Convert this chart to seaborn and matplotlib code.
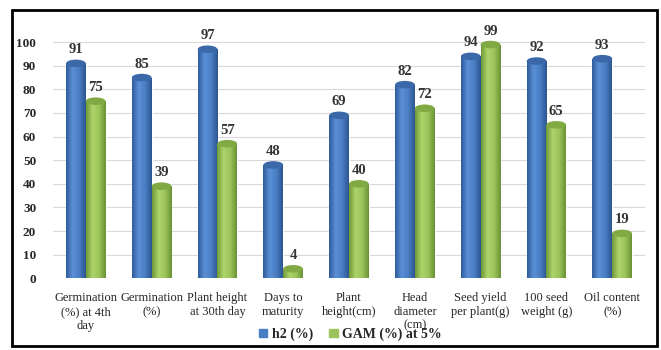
import numpy as np
import pandas as pd
import matplotlib
matplotlib.use('Agg')
import matplotlib.pyplot as plt
import seaborn as sns
from matplotlib.patches import Ellipse, Rectangle
from matplotlib.colors import LinearSegmentedColormap

CATEGORIES = [
    'Germination\n(%) at 4th\nday', 'Germination\n(%)', 'Plant height\nat 30th day',
    'Days to\nmaturity', 'Plant\nheight(cm)', 'Head\ndiameter\n(cm)',
    'Seed yield\nper plant(g)', '100 seed\nweight (g)', 'Oil content\n(%)'
]
H2 = [91, 85, 97, 48, 69, 82, 94, 92, 93]
GAM = [75, 39, 57, 4, 40, 72, 99, 65, 19]
SERIES = ['h2 (%)', 'GAM (%) at 5%']
COLORS = ['#4a7ec4', '#9bc45a']
SHADES = [['#2f5c9a', '#5b8fd6', '#4a7ec4', '#2c5590'],
          ['#6f9838', '#aed46a', '#9bc45a', '#6a9234']]
CAP_COLORS = ['#3a68a8', '#82aa44']
Y_TICKS = [0, 10, 20, 30, 40, 50, 60, 70, 80, 90, 100]

df = pd.DataFrame({
    'trait': CATEGORIES * 2,
    'value': H2 + GAM,
    'series': [SERIES[0]] * len(H2) + [SERIES[1]] * len(GAM),
})

sns.set_style('white')
plt.rcParams['font.family'] = ['Liberation Serif', 'DejaVu Serif']

fig = plt.figure(figsize=(6.61, 3.5), dpi=100)
ax = fig.add_axes([0.08, 0.205, 0.896, 0.715])

sns.barplot(data=df, x='trait', y='value', hue='series', palette=COLORS,
            width=0.6, gap=0.0, saturation=1, ax=ax, legend=False, zorder=3)

# cylinder look: shaded body plus elliptical caps
cap_h = 3.2
grad = np.linspace(0, 1, 64).reshape(1, -1)
for cont, col, capc, shade in zip(ax.containers, COLORS, CAP_COLORS, SHADES):
    cmap = LinearSegmentedColormap.from_list('cyl', shade)
    for bar in cont:
        x0, w, h = bar.get_x(), bar.get_width(), bar.get_height()
        cx = x0 + w / 2
        im = ax.imshow(grad, cmap=cmap, aspect='auto', extent=(x0, x0 + w, 0, h),
                       zorder=3.5, interpolation='bilinear')
        im.set_clip_path(bar)
        ax.add_patch(Ellipse((cx, 0), w, cap_h, facecolor=shade[2], edgecolor='none', zorder=3))
        ax.add_patch(Ellipse((cx, h), w, cap_h, facecolor=capc, edgecolor='none', zorder=4))
    ax.bar_label(cont, padding=5, fontsize=10.5, fontweight='bold', color='#333333')

ax.set_ylim(0, 106)
ax.set_xlim(-0.5, len(CATEGORIES) - 0.5)
ax.set_yticks(Y_TICKS)
ax.set_yticklabels([str(t) for t in Y_TICKS], fontweight='bold', fontsize=9.5)
ax.tick_params(axis='y', length=0, pad=12)
ax.tick_params(axis='x', length=0, pad=10, labelsize=9)
ax.set_xlabel('')
ax.set_ylabel('')
ax.yaxis.grid(True, color='#d9d9d9', linewidth=0.8, zorder=0)
ax.set_axisbelow(True)
for s in ax.spines.values():
    s.set_visible(False)

handles = [Rectangle((0, 0), 1, 1, color=c) for c in COLORS]
fig.legend(handles, SERIES, loc='lower center', bbox_to_anchor=(0.53, -0.01),
           ncol=2, frameon=False, prop={'weight': 'bold', 'size': 10},
           handlelength=0.6, handleheight=0.6, handletextpad=0.3, columnspacing=1.2)

fig.add_artist(Rectangle((0.018, 0.012), 0.976, 0.96, transform=fig.transFigure,
                         fill=False, edgecolor='black', linewidth=2))

fig.savefig('out.png', dpi=100)
